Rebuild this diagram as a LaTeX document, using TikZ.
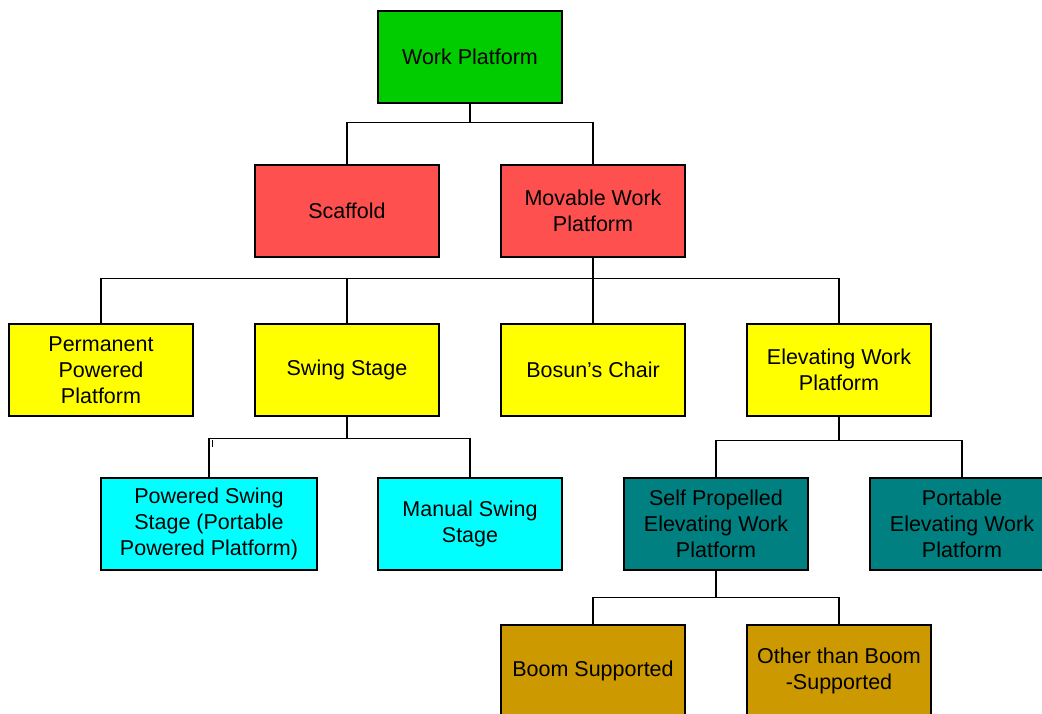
\documentclass[tikz,border=0pt]{standalone}
\usepackage{fontspec}
\setmainfont{Liberation Sans}
\definecolor{cgreen}{HTML}{00CC00}
\definecolor{cred}{HTML}{FF5050}
\definecolor{cyellow}{HTML}{FFFF00}
\definecolor{ccyan}{HTML}{00FFFF}
\definecolor{cteal}{HTML}{008080}
\definecolor{cgold}{HTML}{CC9900}
\begin{document}
\begin{tikzpicture}[x=1pt,y=-1pt,
  box/.style={draw=black,line width=1.3pt,minimum width=184pt,minimum height=92pt,inner sep=0pt,align=center,
    font=\fontsize{21.5}{26}\selectfont},
  conn/.style={draw=black,line width=1.3pt}]
\useasboundingbox (0,0) rectangle (1042,713);
\node[box,fill=cgreen] (wp) at (470,57) {Work Platform};
\node[box,fill=cred] (sc) at (347,211) {Scaffold};
\node[box,fill=cred] (mv) at (593,211) {Movable Work\\Platform};
\node[box,fill=cyellow] (pp) at (101,370) {Permanent\\Powered\\Platform};
\node[box,fill=cyellow] (ss) at (347,370) {Swing Stage};
\node[box,fill=cyellow] (bc) at (593,370) {Bosun’s Chair};
\node[box,fill=cyellow] (ew) at (839,370) {Elevating Work\\Platform};
\node[box,fill=ccyan,minimum width=216pt] (ps) at (209,524) {Powered Swing\\Stage (Portable\\Powered Platform)};
\node[box,fill=ccyan] (ms) at (470,524) {Manual Swing\\Stage};
\node[box,fill=cteal] (sp) at (716,524) {Self Propelled\\Elevating Work\\Platform};
\node[box,fill=cteal] (pe) at (962,524) {Portable\\Elevating Work\\Platform};
\node[box,fill=cgold] (bs) at (593,671) {Boom Supported};
\node[box,fill=cgold] (ob) at (839,671) {Other than Boom\\-Supported};
% connectors
\draw[conn] (wp.south) -- ++(0,19) coordinate (j1);
\draw[conn] (sc.north) |- (j1);
\draw[conn] (mv.north) |- (j1);
\draw[conn] (mv.south) -- ++(0,21) coordinate (j2);
\draw[conn] (pp.north) |- (j2);
\draw[conn] (ss.north) |- (j2);
\draw[conn] (bc.north) -- (j2);
\draw[conn] (ew.north) |- (j2);
\draw[conn] (ss.south) -- ++(0,22) coordinate (j3);
\draw[conn] (ps.north) |- (j3);
\draw[conn] (ms.north) |- (j3);
\coordinate (tk) at (212,440);
\draw[black,line width=1pt] (tk) -- ++(0,7);
\draw[conn] (ew.south) -- ++(0,24) coordinate (j4);
\draw[conn] (sp.north) |- (j4);
\draw[conn] (pe.north) |- (j4);
\draw[conn] (sp.south) -- ++(0,27) coordinate (j5);
\draw[conn] (bs.north) |- (j5);
\draw[conn] (ob.north) |- (j5);
\end{tikzpicture}
\end{document}
